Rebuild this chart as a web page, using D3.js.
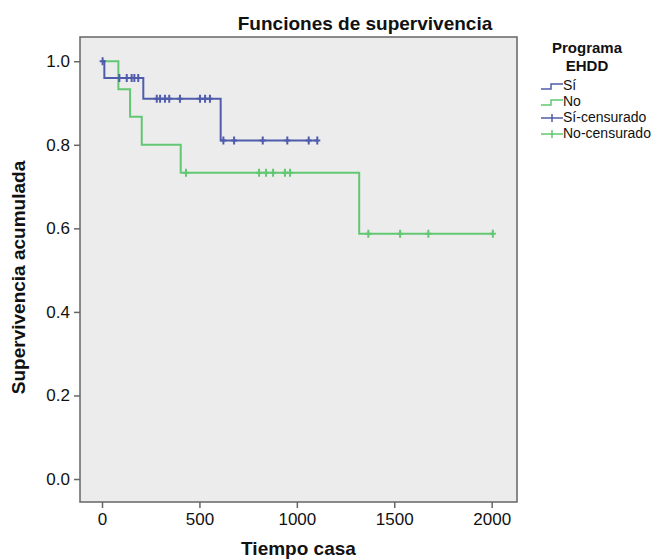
<!DOCTYPE html>
<html>
<head>
<meta charset="utf-8">
<script src="https://cdn.jsdelivr.net/npm/d3@7"></script>
<style>
  body { margin: 0; background: #fff; }
  text { font-family: "Liberation Sans", Arial, sans-serif; fill: #111; }
</style>
</head>
<body>
<svg id="chart"></svg>
<script>
var width = 667;
var height = 560;

// data
var groups = ['Sí', 'No'];
var groupColors = ['#4f5cab', '#62c772'];

var siTimes = [0, 12, 212, 609];
var siSurv = [1.0, 0.96, 0.91, 0.81];
var siEnd = 1105;
var siCens = [3, 89, 127, 152, 166, 186, 281, 298, 323, 345, 400, 503, 529, 554, 623, 678, 825, 951, 1061, 1105];

var noTimes = [0, 84, 144, 204, 404, 1320];
var noSurv = [1.0, 0.933, 0.867, 0.80, 0.733, 0.587];
var noEnd = 2006;
var noCens = [431, 806, 842, 878, 939, 965, 1367, 1530, 1675, 2006];

var xTicks = [0, 500, 1000, 1500, 2000];
var yTicks = [0, 0.2, 0.4, 0.6, 0.8, 1.0];
var legendLabels = ['Sí', 'No', 'Sí-censurado', 'No-censurado'];

var plot = {left: 80, right: 517, top: 37, bottom: 502};

var svg = d3.select('#chart')
  .attr('width', width)
  .attr('height', height);

var x = d3.scaleLinear()
  .domain([-113, 2130])
  .range([plot.left, plot.right]);

var y = d3.scaleLinear()
  .domain([-0.055, 1.058])
  .range([plot.bottom, plot.top]);

// plot background
svg.append('rect')
  .attr('x', plot.left)
  .attr('y', plot.top)
  .attr('width', plot.right - plot.left)
  .attr('height', plot.bottom - plot.top)
  .attr('fill', '#ececec')
  .attr('stroke', '#666')
  .attr('stroke-width', 1.5);

// axes
var xAxis = d3.axisBottom(x).tickValues(xTicks).tickSize(6).tickPadding(5).tickFormat(d3.format('d'));
var yAxis = d3.axisLeft(y).tickValues(yTicks).tickSize(6).tickPadding(4).tickFormat(d3.format('.1f'));

var gx = svg.append('g')
  .attr('transform', 'translate(0,' + plot.bottom + ')')
  .call(xAxis);
var gy = svg.append('g')
  .attr('transform', 'translate(' + plot.left + ',0)')
  .call(yAxis);

[gx, gy].forEach(function(g) {
  g.select('.domain').remove();
  g.selectAll('.tick line').attr('stroke', '#666').attr('stroke-width', 1.5);
  g.selectAll('.tick text').style('font-size', '17px').attr('fill', '#111');
});

// survival curves
function stepPoints(times, surv, end) {
  var pts = times.map(function(t, i) { return [t, surv[i]]; });
  pts.push([end, surv[surv.length - 1]]);
  return pts;
}
function survAt(times, surv, t) {
  var s = surv[0];
  for (var i = 0; i < times.length; i++) { if (times[i] <= t) s = surv[i]; }
  return s;
}

var line = d3.line()
  .x(function(d) { return x(d[0]); })
  .y(function(d) { return y(d[1]); })
  .curve(d3.curveStepAfter);

var curves = [
  {times: noTimes, surv: noSurv, end: noEnd, cens: noCens, color: groupColors[1]},
  {times: siTimes, surv: siSurv, end: siEnd, cens: siCens, color: groupColors[0]}
];

curves.forEach(function(c) {
  svg.append('path')
    .datum(stepPoints(c.times, c.surv, c.end))
    .attr('d', line)
    .attr('fill', 'none')
    .attr('stroke', c.color)
    .attr('stroke-width', 2);

  svg.selectAll(null)
    .data(c.cens)
    .enter().append('path')
    .attr('d', function(t) {
      var cx = x(t), cy = y(survAt(c.times, c.surv, t));
      return 'M' + (cx - 3) + ',' + cy + 'H' + (cx + 3) + 'M' + cx + ',' + (cy - 4) + 'V' + (cy + 4);
    })
    .attr('stroke', c.color)
    .attr('stroke-width', 2);
});

// titles
svg.append('text')
  .attr('x', 365)
  .attr('y', 30)
  .attr('text-anchor', 'middle')
  .style('font-size', '19px')
  .style('font-weight', 'bold')
  .text('Funciones de supervivencia');

svg.append('text')
  .attr('x', (plot.left + plot.right) / 2)
  .attr('y', 555)
  .attr('text-anchor', 'middle')
  .style('font-size', '19px')
  .style('font-weight', 'bold')
  .text('Tiempo casa');

svg.append('text')
  .attr('transform', 'translate(25,' + ((plot.top + plot.bottom) / 2 + 8) + ') rotate(-90)')
  .attr('text-anchor', 'middle')
  .style('font-size', '19px')
  .style('font-weight', 'bold')
  .text('Supervivencia acumulada');

// legend
var legend = svg.append('g');
legend.append('text')
  .attr('x', 587).attr('y', 53)
  .attr('text-anchor', 'middle')
  .style('font-size', '15px').style('font-weight', 'bold')
  .text('Programa');
legend.append('text')
  .attr('x', 587).attr('y', 71)
  .attr('text-anchor', 'middle')
  .style('font-size', '15px').style('font-weight', 'bold')
  .text('EHDD');

var legendColors = [groupColors[0], groupColors[1], groupColors[0], groupColors[1]];
legendLabels.forEach(function(lab, i) {
  var ly = 85 + i * 16;
  if (i < 2) {
    legend.append('path')
      .attr('d', 'M541,' + (ly + 4) + 'H551V' + (ly - 1) + 'H563')
      .attr('fill', 'none')
      .attr('stroke', legendColors[i])
      .attr('stroke-width', 1.5);
  } else {
    legend.append('path')
      .attr('d', 'M541,' + (ly + 1) + 'H563M552,' + (ly - 3) + 'V' + (ly + 5))
      .attr('stroke', legendColors[i])
      .attr('stroke-width', 1.5);
  }
  legend.append('text')
    .attr('x', 563).attr('y', ly + 5)
    .style('font-size', '14px')
    .text(lab);
});
</script>
</body>
</html>
